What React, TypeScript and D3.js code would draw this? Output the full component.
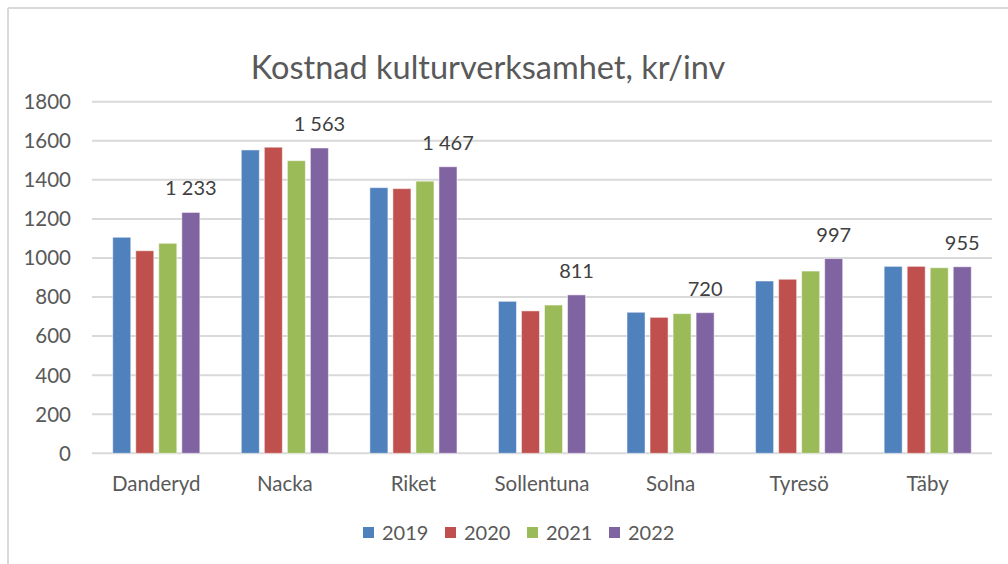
import React from "react";
import * as d3 from "d3";

const categories = ["Danderyd", "Nacka", "Riket", "Sollentuna", "Solna", "Tyresö", "Täby"];
const seriesNames = ["2019", "2020", "2021", "2022"];
const values2019 = [1106, 1553, 1360, 778, 722, 882, 957];
const values2020 = [1037, 1567, 1355, 729, 696, 891, 957];
const values2021 = [1075, 1498, 1393, 759, 715, 933, 950];
const values2022 = [1233, 1563, 1467, 811, 720, 997, 955];
const labels2022 = ["1 233", "1 563", "1 467", "811", "720", "997", "955"];
const yTicks = [0, 200, 400, 600, 800, 1000, 1200, 1400, 1600, 1800];
const colors = ["#4F81BD", "#C0504D", "#9BBB59", "#8064A2"];
const title = "Kostnad kulturverksamhet, kr/inv";

const allValues = [values2019, values2020, values2021, values2022];

export default function App() {
  const W = 1008;
  const H = 564;
  const left = 92;
  const right = 992;
  const top = 101.7;
  const bottom = 453.3;
  const font = "Lato, 'Open Sans', sans-serif";

  const x0 = d3.scaleBand<string>().domain(categories).range([left, right]).padding(0);
  const x1 = d3
    .scaleBand<string>()
    .domain(seriesNames)
    .range([0, x0.bandwidth()])
    .paddingInner(0.217)
    .paddingOuter(0.9);
  const y = d3.scaleLinear().domain([0, 1800]).range([bottom, top]);

  const legendStart = 363;
  const legendStep = 82;

  return (
    <div style={{ position: "fixed", left: 0, top: 0 }}>
      <svg width={W} height={H} style={{ display: "block", background: "#fff" }}>
        <rect x={0} y={0} width={W} height={H} fill="#fff" />
        {/* chart border */}
        <line x1={8} y1={8} x2={W} y2={8} stroke="#D9D9D9" strokeWidth={2} />
        <line x1={8} y1={8} x2={8} y2={H} stroke="#D9D9D9" strokeWidth={2} />

        <text
          x={488}
          y={79}
          textAnchor="middle"
          fontFamily={font}
          fontSize={32.5}
          fill="#595959"
        >
          {title}
        </text>

        {yTicks.map((t) => (
          <g key={t}>
            <line
              x1={left}
              x2={right}
              y1={y(t)}
              y2={y(t)}
              stroke="#D9D9D9"
              strokeWidth={2}
            />
            <text
              x={71}
              y={y(t)}
              dy="0.36em"
              textAnchor="end"
              fontFamily={font}
              fontSize={20.5}
              fill="#595959"
            >
              {t}
            </text>
          </g>
        ))}

        {categories.map((c, ci) => (
          <g key={c} transform={`translate(${x0(c)},0)`}>
            {seriesNames.map((s, si) => {
              const v = allValues[si][ci];
              return (
                <rect
                  key={s}
                  x={x1(s)}
                  y={y(v)}
                  width={x1.bandwidth()}
                  height={y(0) - y(v)}
                  fill={colors[si]}
                  stroke="#ffffff"
                  strokeOpacity={0.5}
                  strokeWidth={1}
                />
              );
            })}
            <text
              x={(x1("2022") as number) + x1.bandwidth() / 2}
              y={y(values2022[ci]) - 17}
              textAnchor="middle"
              fontFamily={font}
              fontSize={20}
              fill="#404040"
            >
              {labels2022[ci]}
            </text>
            <text
              x={x0.bandwidth() / 2}
              y={491}
              textAnchor="middle"
              fontFamily={font}
              fontSize={20.5}
              fill="#595959"
            >
              {c}
            </text>
          </g>
        ))}

        {seriesNames.map((s, si) => (
          <g key={s} transform={`translate(${legendStart + si * legendStep},527)`}>
            <rect x={0} y={0} width={11} height={11} fill={colors[si]} />
            <text x={19} y={12.5} fontFamily={font} fontSize={20} fill="#595959">
              {s}
            </text>
          </g>
        ))}
      </svg>
    </div>
  );
}
